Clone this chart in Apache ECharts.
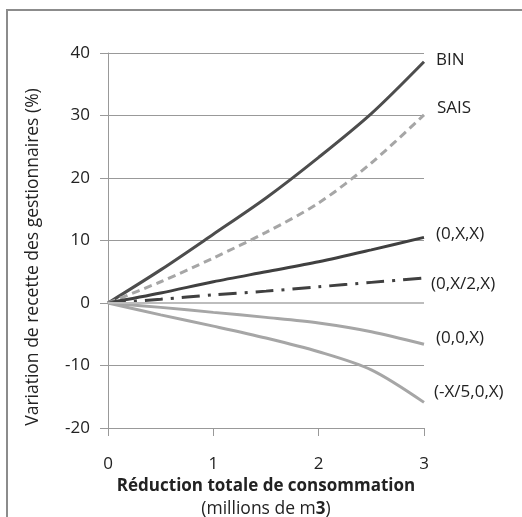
<!DOCTYPE html>
<html>
<head>
<meta charset="utf-8">
<script src="https://cdn.jsdelivr.net/npm/echarts@6/dist/echarts.min.js"></script>
<style>html,body{margin:0;padding:0;background:#fff;}#c{width:522px;height:517px;}</style>
</head>
<body>
<div id="c"></div>
<script>
var xValues = [0, 0.5, 1, 1.5, 2, 2.5, 3];
var seriesNames = ['BIN', 'SAIS', '(0,X,X)', '(0,X/2,X)', '(0,0,X)', '(-X/5,0,X)'];
var binValues   = [0, 5.3, 11.0, 16.8, 23.3, 30.3, 38.6];
var saisValues  = [0, 3.4, 7.2, 11.3, 16.0, 22.4, 30.1];
var oxxValues   = [0, 1.6, 3.4, 5.0, 6.6, 8.5, 10.5];
var ox2xValues  = [0, 0.6, 1.3, 1.9, 2.6, 3.3, 4.0];
var ooxValues   = [0, -0.7, -1.5, -2.3, -3.2, -4.6, -6.6];
var mx5Values   = [0, -1.9, -3.7, -5.6, -7.8, -10.7, -15.9];
var xTicks = [0, 1, 2, 3];
var yTicks = [-20, -10, 0, 10, 20, 30, 40];

var FONT = 'Open Sans';
function pts(v) { return xValues.map(function (x, i) { return [x, v[i]]; }); }

function mk(name, vals, color, dash, off) {
  return {
    name: name, type: 'line', data: pts(vals), smooth: 0.3, symbol: 'none',
    lineStyle: { color: color, width: 3, type: dash || 'solid' },
    endLabel: {
      show: true, formatter: name, color: '#222', fontFamily: FONT, fontSize: 17,
      offset: off, distance: 0
    },
    z: 3
  };
}

var chart = echarts.init(document.getElementById('c'));
chart.setOption({
  animation: false,
  grid: { left: 108, right: 98, top: 53, bottom: 89, containLabel: false, outerBoundsMode: 'none' },
  graphic: [
    { type: 'rect', shape: { x: 7, y: 10, width: 530, height: 530 }, style: { fill: 'none', stroke: '#8c8c8c', lineWidth: 2 } },
    { type: 'text', x: 33, y: 257, rotation: Math.PI / 2,
      style: { text: 'Variation de recette des gestionnaires (%)', fill: '#222', font: '17.5px "Open Sans"', textAlign: 'center', textVerticalAlign: 'middle' } }
  ],
  xAxis: {
    type: 'value', min: xTicks[0], max: xTicks[xTicks.length - 1], interval: 1,
    axisLine: { show: true, onZero: false, lineStyle: { color: '#999', width: 1 } },
    axisTick: { show: true, length: 8, lineStyle: { color: '#999' } },
    splitLine: { show: false },
    axisLabel: { color: '#222', fontFamily: FONT, fontSize: 17, margin: 28 },
    name: '{b|Réduction totale de consommation}\n{n|(millions de m}{b|3}{n|)}',
    nameLocation: 'middle', nameGap: 46,
    nameTextStyle: {
      rich: {
        b: { fontFamily: FONT, fontSize: 17, fontWeight: 'bold', color: '#222', lineHeight: 23 },
        n: { fontFamily: FONT, fontSize: 17.5, color: '#222', lineHeight: 23 }
      }
    }
  },
  yAxis: {
    type: 'value', min: yTicks[0], max: yTicks[yTicks.length - 1], interval: 10,
    axisLine: { show: true, lineStyle: { color: '#999', width: 1 } },
    axisTick: { show: true, length: 8, lineStyle: { color: '#999' } },
    splitLine: { show: true, lineStyle: { color: '#999', width: 1 } },
    axisLabel: { color: '#222', fontFamily: FONT, fontSize: 17, margin: 18 }
  },
  series: [
    Object.assign(mk(seriesNames[0], binValues, '#4d4d4d', null, [12, -2]), {
      markLine: { silent: true, symbol: 'none', label: { show: false },
        lineStyle: { color: '#bdbdbd', width: 2, type: 'solid' }, data: [{ yAxis: 0 }] }
    }),
    mk(seriesNames[1], saisValues, '#a6a6a6', [8, 5], [13, -7]),
    mk(seriesNames[2], oxxValues, '#404040', null, [12, -3]),
    mk(seriesNames[3], ox2xValues, '#404040', [18, 8, 3, 8], [7, 6]),
    mk(seriesNames[4], ooxValues, '#a6a6a6', null, [12, -6]),
    mk(seriesNames[5], mx5Values, '#a6a6a6', null, [10, -10])
  ]
});
</script>
</body>
</html>
